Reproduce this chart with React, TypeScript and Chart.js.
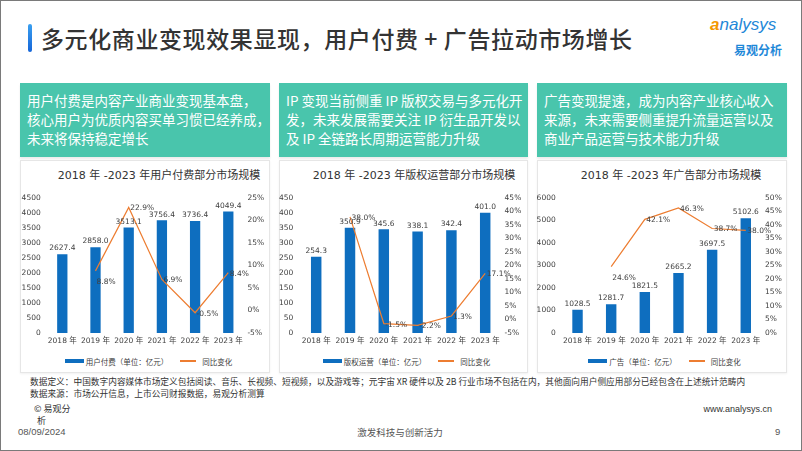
import React, { useEffect, useRef } from "react";
import { Chart, registerables } from "chart.js";
Chart.register(...registerables);

// ---------- data ----------
const years = ["2018 年", "2019 年", "2020 年", "2021 年", "2022 年", "2023 年"];

const userPay = [2627.4, 2858.0, 3513.1, 3756.4, 3736.4, 4049.4];
const userPayYoY = [null, 8.8, 22.9, 6.9, -0.5, 8.4];

const copyright = [254.3, 350.9, 345.6, 338.1, 342.4, 401.0];
const copyrightYoY = [null, 38.0, -1.5, -2.2, 1.3, 17.1];

const ads = [1028.5, 1281.7, 1821.5, 2665.2, 3697.5, 5102.6];
const adsYoY = [null, 24.6, 42.1, 46.3, 38.7, 38.0];

const chartTitles = [
  "2018 年 -2023 年用户付费部分市场规模",
  "2018 年 -2023 年版权运营部分市场规模",
  "2018 年 -2023 年广告部分市场规模",
];
const barNames = ["用户付费（单位：亿元）", "版权运营（单位：亿元）", "广告（单位：亿元）"];
const lineName = "同比变化";

// ---------- styles ----------
const BLUE = "#0E6EBF";
const ORANGE = "#ED7D31";
const TEAL = "#49C5AC";
const LATIN = '"DejaVu Sans", "Noto Sans CJK SC", sans-serif';
const CJK = '"Noto Sans CJK SC", "DejaVu Sans", sans-serif';

const labelPlugin = {
  id: "vlabels",
  afterDatasetsDraw(chart: any) {
    const ctx = chart.ctx;
    const place = chart.options.plugins.vlabels.place as string[];
    ctx.save();
    ctx.font = '7.5px "DejaVu Sans", sans-serif';
    ctx.fillStyle = "#404040";
    chart.data.datasets.forEach((ds: any, di: number) => {
      const meta = chart.getDatasetMeta(di);
      meta.data.forEach((el: any, i: number) => {
        const v = ds.data[i];
        if (v == null) return;
        if (ds.type === "bar") {
          ctx.textAlign = "center";
          ctx.textBaseline = "bottom";
          ctx.fillText(v.toFixed(1), el.x, el.y - 2);
        } else {
          ctx.textAlign = "left";
          ctx.textBaseline = "middle";
          const txt = v.toFixed(1) + "%";
          if (place[i] === "below") ctx.fillText(txt, el.x + 1, el.y + 11);
          else ctx.fillText(txt, el.x + 1.5, el.y + 1);
        }
      });
    });
    ctx.restore();
  },
};

type Cfg = {
  bars: number[];
  line: (number | null)[];
  yMax: number;
  yStep: number;
  rMin: number;
  rMax: number;
  leftW: number;
  rightW: number;
  leftPad: number;
  place: string[];
};

function MiniChart({ cfg, style }: { cfg: Cfg; style: React.CSSProperties }) {
  const ref = useRef<HTMLCanvasElement>(null);
  useEffect(() => {
    const tickFont = { size: 7.5, family: LATIN };
    const chart = new Chart(ref.current as HTMLCanvasElement, {
      type: "bar",
      data: {
        labels: years,
        datasets: [
          {
            type: "line",
            data: cfg.line as any,
            borderColor: ORANGE,
            borderWidth: 1.2,
            pointRadius: 0,
            yAxisID: "y1",
            order: 0,
          } as any,
          {
            type: "bar",
            data: cfg.bars,
            backgroundColor: BLUE,
            barPercentage: 0.31,
            categoryPercentage: 1,
            yAxisID: "y",
            order: 1,
          } as any,
        ],
      },
      options: {
        animation: false,
        responsive: false,
        layout: { padding: { top: 13, left: 0, right: 0, bottom: 0 } },
        plugins: {
          legend: { display: false },
          title: { display: false },
          tooltip: { enabled: false },
          vlabels: { place: cfg.place },
        } as any,
        scales: {
          x: {
            grid: { display: false, drawTicks: false },
            border: { display: false },
            ticks: { font: tickFont, color: "#404040", padding: 4, maxRotation: 0, autoSkip: false },
            afterFit: (s: any) => { s.height = 15; },
          },
          y: {
            position: "left",
            min: 0,
            max: cfg.yMax,
            grid: { display: false, drawTicks: false },
            border: { display: false },
            ticks: { stepSize: cfg.yStep, font: tickFont, color: "#404040", padding: cfg.leftPad, callback: (v: any) => String(v) },
            afterFit: (s: any) => { s.width = cfg.leftW; },
          },
          y1: {
            position: "right",
            min: cfg.rMin,
            max: cfg.rMax,
            grid: { display: false, drawTicks: false },
            border: { display: false },
            ticks: {
              stepSize: 5,
              font: tickFont,
              color: "#404040",
              padding: 2.5,
              callback: (v: any) => v + "%",
            },
            afterFit: (s: any) => { s.width = cfg.rightW; },
          },
        },
      },
      plugins: [labelPlugin as any],
    });
    return () => chart.destroy();
  }, []);
  return <canvas ref={ref} width={style.width as number} height={style.height as number} style={{ position: "absolute", ...style }} />;
}

const panels = [
  { left: 20, right: 270, titleC: 159, legendC: 148.5 },
  { left: 279, right: 528, titleC: 414, legendC: 406.5 },
  { left: 537, right: 787, titleC: 671, legendC: 664.5 },
];

const cfgs: Cfg[] = [
  { bars: userPay, line: userPayYoY, yMax: 4500, yStep: 500, rMin: -5, rMax: 25, leftW: 25.7, rightW: 25.1, leftPad: 5, place: ["", "below", "right", "right", "right", "right"] },
  { bars: copyright, line: copyrightYoY, yMax: 450, yStep: 50, rMin: -5, rMax: 45, leftW: 20.3, rightW: 25.9, leftPad: 6, place: ["", "right", "right", "right", "right", "right"] },
  { bars: ads, line: adsYoY, yMax: 6000, yStep: 1000, rMin: 0, rMax: 50, leftW: 23.7, rightW: 24.4, leftPad: 5, place: ["", "below", "right", "right", "right", "right"] },
];

const boxTexts = [
  ["用户付费是内容产业商业变现基本盘，", "核心用户为优质内容买单习惯已经养成，", "未来将保持稳定增长"],
  ["IP 变现当前侧重 IP 版权交易与多元化开", "发，未来发展需要关注 IP 衍生品开发以", "及 IP 全链路长周期运营能力升级"],
  ["广告变现提速，成为内容产业核心收入", "来源，未来需要侧重提升流量运营以及", "商业产品运营与技术能力升级"],
];

export default function App() {
  const abs = (s: React.CSSProperties): React.CSSProperties => ({ position: "absolute", ...s });
  return (
    <div style={{ position: "fixed", left: 0, top: 0, width: 802, height: 451, background: "#fff", overflow: "hidden", fontFamily: CJK }}>
      <div style={abs({ left: 0, top: 0, width: 800, height: 449, border: "1px solid #7a7a7a" })} />
      {/* title */}
      <div style={abs({ left: 28, top: 24, width: 4, height: 28, borderRadius: 2, background: "linear-gradient(#3aa0f0,#1565d8)" })} />
      <div style={abs({ left: 41, top: 22, fontSize: 23, fontWeight: 500, color: "#333", whiteSpace: "nowrap", lineHeight: "32px", letterSpacing: 0.6 })}>
        多元化商业变现效果显现，用户付费 + 广告拉动市场增长
      </div>
      {/* logo */}
      <div style={abs({ left: 710, top: 14, fontSize: 17, fontStyle: "italic", fontFamily: '"Liberation Sans", sans-serif', whiteSpace: "nowrap", lineHeight: "22px" })}>
        <span style={{ color: "#F39800", fontWeight: 700 }}>a</span>
        <span style={{ color: "#1E88D8" }}>nalysys</span>
      </div>
      <div style={abs({ left: 734, top: 42, fontSize: 12, fontWeight: 700, color: "#1E88D8", whiteSpace: "nowrap", lineHeight: "16px" })}>易观分析</div>

      {/* teal boxes */}
      {panels.map((p, i) => (
        <div key={"b" + i} style={abs({ left: p.left, top: 83, width: p.right - p.left, height: 74, background: TEAL, boxShadow: "0 2px 2px rgba(0,0,0,0.08)" })}>
          <div style={abs({ left: 7, top: 7.5, fontSize: 13.5, lineHeight: "19px", color: "#fff", whiteSpace: "nowrap" })}>
            {boxTexts[i].map((t, k) => (<div key={k}>{t}</div>))}
          </div>
        </div>
      ))}

      {/* chart panels */}
      {panels.map((p, i) => (
        <React.Fragment key={"p" + i}>
          <div style={abs({ left: p.left, top: 160, width: p.right - p.left - 2, height: 211, border: "1px solid #e6e6e6", boxShadow: "0 1px 2px rgba(0,0,0,0.06)" })} />
          <div style={abs({ left: p.titleC - 120, top: 168, width: 240, textAlign: "center", fontSize: 11, fontFamily: LATIN, color: "#333", lineHeight: "16px", whiteSpace: "nowrap" })}>
            {chartTitles[i]}
          </div>
          <MiniChart cfg={cfgs[i]} style={{ left: p.left, top: 185, width: p.right - p.left, height: 163 }} />
          <div style={abs({ left: p.legendC - 110, top: 355, width: 220, height: 12, display: "flex", alignItems: "center", justifyContent: "center", fontSize: 7.5, color: "#404040", whiteSpace: "nowrap" })}>
            <span style={{ display: "inline-block", width: 19, height: 4.5, background: BLUE, marginRight: 2 }} />
            <span>{barNames[i]}</span>
            <span style={{ display: "inline-block", width: 16, height: 1.3, background: ORANGE, marginLeft: 12, marginRight: 6 }} />
            <span>{lineName}</span>
          </div>
        </React.Fragment>
      ))}

      {/* footer */}
      <div style={abs({ left: 30, top: 376, fontSize: 8.7, color: "#333", lineHeight: "12px", whiteSpace: "nowrap" })}>
        <div>数据定义：中国数字内容媒体市场定义包括阅读、音乐、长视频、短视频，以及游戏等；元宇宙 XR 硬件以及 2B 行业市场不包括在内，其他面向用户侧应用部分已经包含在上述统计范畴内</div>
        <div>数据来源：市场公开信息，上市公司财报数据，易观分析测算</div>
      </div>
      <div style={abs({ left: 34, top: 403, fontSize: 9, color: "#333", lineHeight: "12px", whiteSpace: "nowrap" })}>
        <div>© 易观分</div>
        <div style={{ paddingLeft: 3 }}>析</div>
      </div>
      <div style={abs({ left: 672, top: 403, width: 100, textAlign: "right", fontSize: 9, color: "#333", lineHeight: "12px", whiteSpace: "nowrap", fontFamily: '"Liberation Sans", sans-serif' })}>www.analysys.cn</div>
      <div style={abs({ left: 18, top: 426, fontSize: 9.5, color: "#555", lineHeight: "12px", fontFamily: '"Liberation Sans", sans-serif' })}>08/09/2024</div>
      <div style={abs({ left: 300, top: 426, width: 200, textAlign: "center", fontSize: 9.5, color: "#555", lineHeight: "12px" })}>激发科技与创新活力</div>
      <div style={abs({ left: 775, top: 426, fontSize: 9.5, color: "#555", lineHeight: "12px", fontFamily: '"Liberation Sans", sans-serif' })}>9</div>
    </div>
  );
}
